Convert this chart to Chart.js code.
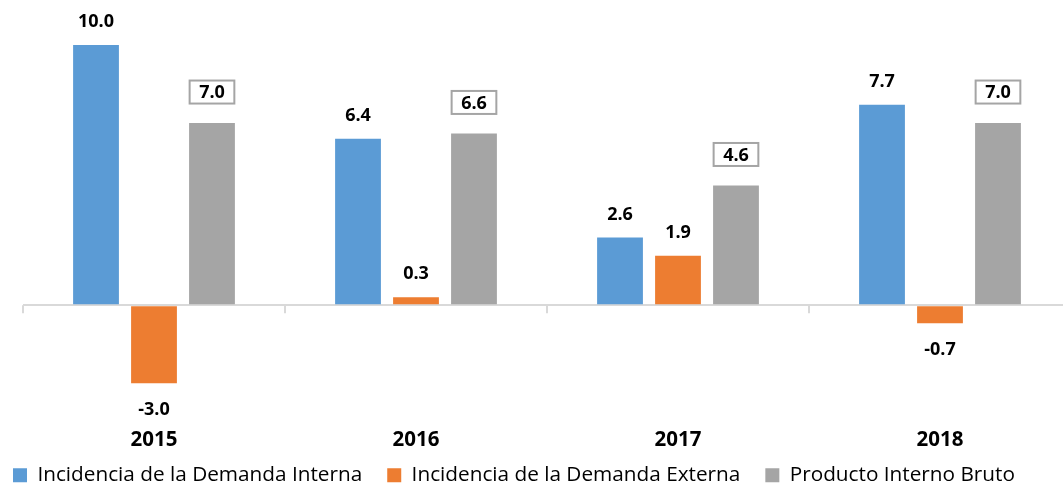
<!DOCTYPE html>
<html><head><meta charset="utf-8">
<script src="https://cdn.jsdelivr.net/npm/chart.js@4/dist/chart.umd.min.js"></script>
<style>html,body{margin:0;padding:0;overflow:hidden;background:#fff}#wrap{width:1071px;height:483px}</style>
</head><body><div id="wrap"><canvas id="c" width="1071" height="483"></canvas></div>
<script>
const categories = ['2015', '2016', '2017', '2018'];
const demandaInterna = [10.0, 6.4, 2.6, 7.7];
const demandaExterna = [-3.0, 0.3, 1.9, -0.7];
const productoInterno = [7.0, 6.6, 4.6, 7.0];
const seriesNames = ['Incidencia de la Demanda Interna', 'Incidencia de la Demanda Externa', 'Producto Interno Bruto'];
const seriesColors = ['#5B9BD5', '#ED7D31', '#A5A5A5'];

const FONT = '"Open Sans", "Noto Sans", sans-serif';

const labelPlugin = {
  id: 'valueLabels',
  afterLayout(chart) {
    // let category labels extend below the axis box, and start the legend at the left
    chart.scales.x.bottom = chart.height;
    chart.legend.left = -12;
  },
  beforeDatasetsDraw(chart) {
    const ctx = chart.ctx;
    const xs = chart.scales.x, ys = chart.scales.y;
    const y0 = ys.getPixelForValue(0);
    const n = categories.length;
    ctx.save();
    ctx.strokeStyle = '#D9D9D9';
    ctx.lineWidth = 2;
    for (let i = 0; i <= n; i++) {
      const x = Math.round(xs.left + i * xs.width / n);
      ctx.beginPath();
      ctx.moveTo(x, y0);
      ctx.lineTo(x, y0 + 8);
      ctx.stroke();
    }
    ctx.restore();
  },
  afterDatasetsDraw(chart) {
    const ctx = chart.ctx;
    ctx.save();
    ctx.font = 'bold 18px ' + FONT;
    ctx.textAlign = 'center';
    ctx.textBaseline = 'middle';
    chart.data.datasets.forEach((ds, di) => {
      const meta = chart.getDatasetMeta(di);
      meta.data.forEach((el, i) => {
        const v = ds.data[i];
        const txt = v.toFixed(1);
        let y;
        if (ds.boxedLabels) {
          y = el.y - 31;
          const w = ctx.measureText(txt).width + 19;
          const h = 23;
          ctx.fillStyle = '#FFFFFF';
          ctx.fillRect(el.x - w / 2, y - h / 2, w, h);
          ctx.strokeStyle = '#A5A5A5';
          ctx.lineWidth = 2;
          ctx.strokeRect(el.x - w / 2, y - h / 2, w, h);
        } else {
          y = v >= 0 ? el.y - 24 : el.y + 26;
        }
        ctx.fillStyle = '#000000';
        ctx.fillText(txt, el.x, y + 1);
      });
    });
    ctx.restore();
  }
};

new Chart(document.getElementById('c'), {
  type: 'bar',
  data: {
    labels: categories,
    datasets: [
      { label: seriesNames[0], data: demandaInterna, backgroundColor: seriesColors[0], borderWidth: 0 },
      { label: seriesNames[1], data: demandaExterna, backgroundColor: seriesColors[1], borderWidth: 0 },
      { label: seriesNames[2], data: productoInterno, backgroundColor: seriesColors[2], borderWidth: 0, boxedLabels: true }
    ]
  },
  options: {
    responsive: false,
    animation: false,
    devicePixelRatio: 1,
    datasets: { bar: { categoryPercentage: 0.664, barPercentage: 0.79 } },
    layout: { padding: { left: 0, right: 0, top: 0, bottom: 0 } },
    plugins: {
      tooltip: { enabled: false },
      legend: {
        position: 'bottom',
        align: 'start',
        maxHeight: 43.25,
        labels: {
          boxWidth: 14, boxHeight: 14, padding: 25, color: '#000000',
          font: { family: FONT, size: 20.75 }
        }
      }
    },
    scales: {
      x: {
        grid: { display: false, drawTicks: false },
        border: { display: false },
        ticks: { color: '#000000', padding: 11, font: { family: FONT, size: 20.5, weight: 'bold' } },
        afterFit(s) { s.height = 22.5; }
      },
      y: {
        min: -4.31,
        max: 11.73,
        afterBuildTicks(s) { s.ticks = [{ value: 0 }]; },
        afterFit(s) { s.width = 23; },
        ticks: { display: false },
        border: { display: false },
        grid: { color: '#D9D9D9', lineWidth: 2, drawTicks: false }
      }
    }
  },
  plugins: [labelPlugin]
});
</script>
</body></html>
